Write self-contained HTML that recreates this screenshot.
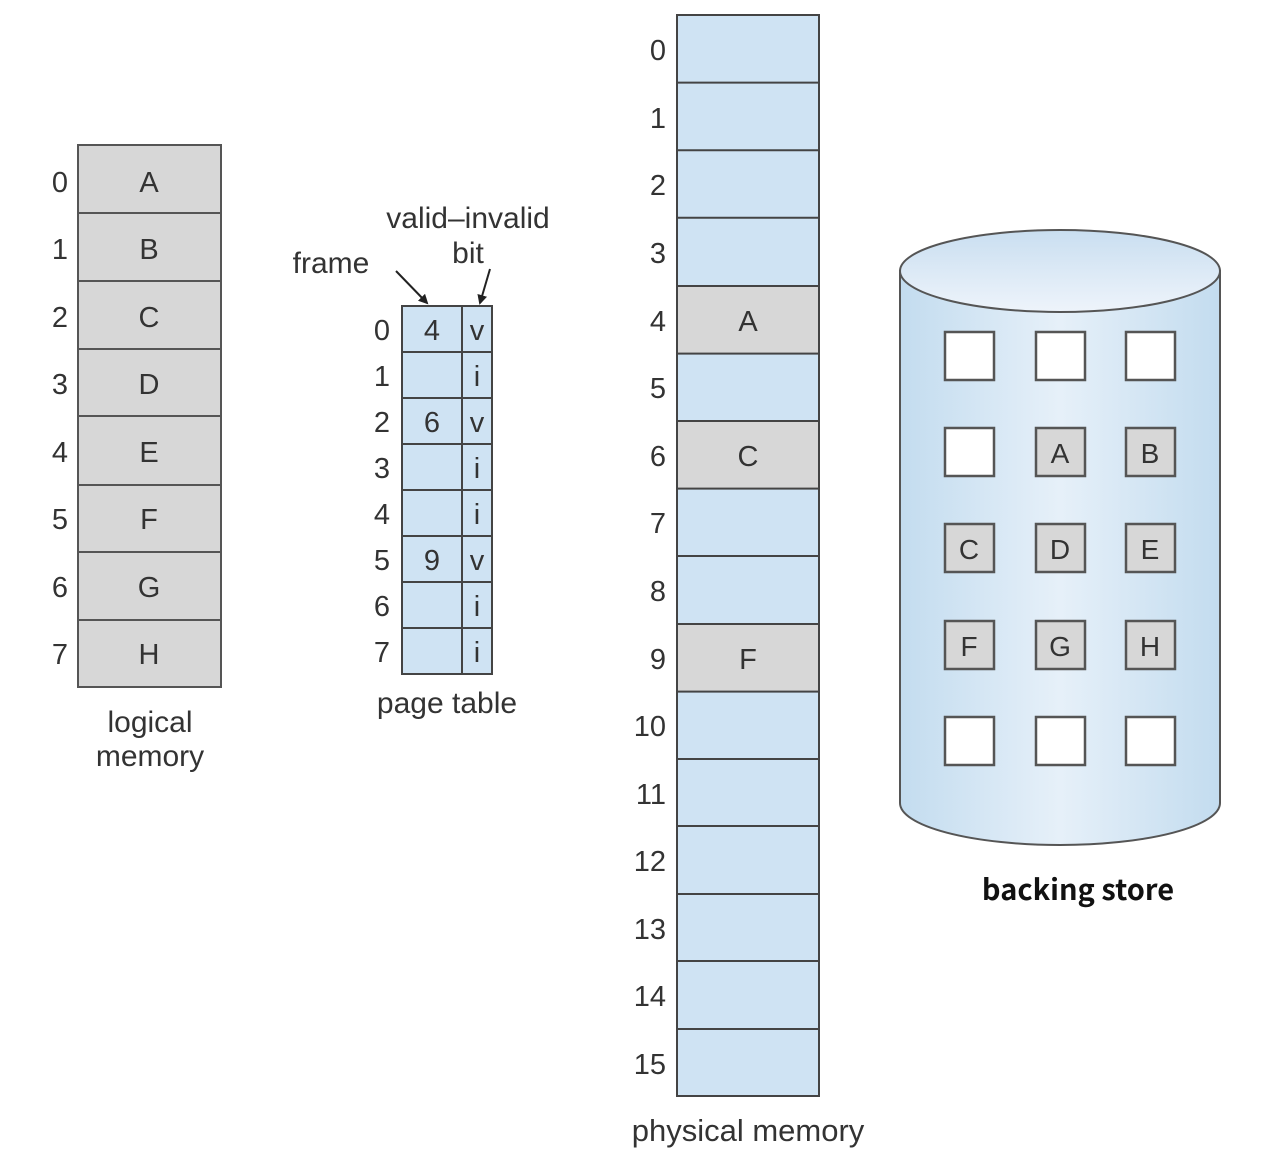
<!DOCTYPE html>
<html><head><meta charset="utf-8"><style>
html,body{margin:0;padding:0;background:#fff;}
svg{display:block;}
text{font-family:"Liberation Sans",sans-serif;fill:#333;}
</style></head><body>
<svg width="1280" height="1176" viewBox="0 0 1280 1176" xmlns="http://www.w3.org/2000/svg">
<defs>
<linearGradient id="cyl" x1="0" x2="1" y1="0" y2="0">
<stop offset="0" stop-color="#c3dcef"/><stop offset="0.5" stop-color="#e6f0f9"/><stop offset="1" stop-color="#c3dcef"/>
</linearGradient>
<linearGradient id="top" x1="0" x2="0" y1="0" y2="1">
<stop offset="0" stop-color="#c9def0"/><stop offset="1" stop-color="#eef4fb"/>
</linearGradient>
<marker id="ar" markerWidth="10" markerHeight="10" refX="8" refY="5" orient="auto" markerUnits="userSpaceOnUse"><path d="M0,0 L10,5 L0,10 Z" fill="#222"/></marker>
</defs>

<!-- logical memory -->
<g stroke="#555" stroke-width="2" fill="#d7d7d7">
<rect x="78" y="145" width="143" height="68"/>
<rect x="78" y="213" width="143" height="68"/>
<rect x="78" y="281" width="143" height="68"/>
<rect x="78" y="349" width="143" height="67"/>
<rect x="78" y="416" width="143" height="69"/>
<rect x="78" y="485" width="143" height="67"/>
<rect x="78" y="552" width="143" height="68"/>
<rect x="78" y="620" width="143" height="67"/>
</g>
<g font-size="29" text-anchor="middle">
<text x="149" y="192">A</text><text x="149" y="259">B</text><text x="149" y="327">C</text><text x="149" y="394">D</text>
<text x="149" y="462">E</text><text x="149" y="529">F</text><text x="149" y="597">G</text><text x="149" y="664">H</text>
<text x="60" y="192">0</text><text x="60" y="259">1</text><text x="60" y="327">2</text><text x="60" y="394">3</text>
<text x="60" y="462">4</text><text x="60" y="529">5</text><text x="60" y="597">6</text><text x="60" y="664">7</text>
</g>
<g font-size="30" text-anchor="middle">
<text x="150" y="732">logical</text><text x="150" y="766">memory</text>
</g>

<!-- page table -->
<rect x="402" y="306" width="90" height="368" fill="#cfe3f3" stroke="#444" stroke-width="2"/>
<g stroke="#444" stroke-width="2">
<line x1="462" y1="306" x2="462" y2="674"/>
<line x1="402" y1="352" x2="492" y2="352"/><line x1="402" y1="398" x2="492" y2="398"/>
<line x1="402" y1="444" x2="492" y2="444"/><line x1="402" y1="490" x2="492" y2="490"/>
<line x1="402" y1="536" x2="492" y2="536"/><line x1="402" y1="582" x2="492" y2="582"/>
<line x1="402" y1="628" x2="492" y2="628"/>
</g>
<g font-size="29" text-anchor="middle">
<text x="382" y="340">0</text><text x="382" y="386">1</text><text x="382" y="432">2</text><text x="382" y="478">3</text>
<text x="382" y="524">4</text><text x="382" y="570">5</text><text x="382" y="616">6</text><text x="382" y="662">7</text>
<text x="432" y="340">4</text><text x="432" y="432">6</text><text x="432" y="570">9</text>
<text x="477" y="340">v</text><text x="477" y="386">i</text><text x="477" y="432">v</text><text x="477" y="478">i</text>
<text x="477" y="524">i</text><text x="477" y="570">v</text><text x="477" y="616">i</text><text x="477" y="662">i</text>
</g>
<g font-size="30" text-anchor="middle">
<text x="447" y="713">page table</text>
<text x="331" y="273">frame</text>
<text x="468" y="228">valid–invalid</text>
<text x="468" y="263">bit</text>
</g>
<line x1="396" y1="271" x2="427" y2="303" stroke="#222" stroke-width="2" marker-end="url(#ar)"/>
<line x1="490" y1="269" x2="480" y2="303" stroke="#222" stroke-width="2" marker-end="url(#ar)"/>

<!-- physical memory -->
<g stroke="#444" stroke-width="2">
<rect x="677" y="15" width="142" height="1081" fill="#cfe3f3"/>
<rect x="677" y="286" width="142" height="67.6" fill="#d7d7d7"/>
<rect x="677" y="421" width="142" height="67.6" fill="#d7d7d7"/>
<rect x="677" y="624" width="142" height="67.6" fill="#d7d7d7"/>
<line x1="677" y1="82.6" x2="819" y2="82.6"/><line x1="677" y1="150.2" x2="819" y2="150.2"/>
<line x1="677" y1="217.8" x2="819" y2="217.8"/><line x1="677" y1="556" x2="819" y2="556"/>
<line x1="677" y1="759" x2="819" y2="759"/><line x1="677" y1="826" x2="819" y2="826"/>
<line x1="677" y1="894" x2="819" y2="894"/><line x1="677" y1="961" x2="819" y2="961"/>
<line x1="677" y1="1029" x2="819" y2="1029"/>
</g>
<g font-size="29" text-anchor="end">
<text x="666" y="60">0</text><text x="666" y="128">1</text><text x="666" y="195">2</text><text x="666" y="263">3</text>
<text x="666" y="331">4</text><text x="666" y="398">5</text><text x="666" y="466">6</text><text x="666" y="533">7</text>
<text x="666" y="601">8</text><text x="666" y="669">9</text><text x="666" y="736">10</text><text x="666" y="804">11</text>
<text x="666" y="871">12</text><text x="666" y="939">13</text><text x="666" y="1006">14</text><text x="666" y="1074">15</text>
</g>
<g font-size="29" text-anchor="middle">
<text x="748" y="331">A</text><text x="748" y="466">C</text><text x="748" y="669">F</text>
</g>
<text x="748" y="1141" font-size="31" text-anchor="middle">physical memory</text>

<!-- backing store cylinder -->
<path d="M900,271 L900,803 A160,42 0 0 0 1220,803 L1220,271 Z" fill="url(#cyl)" stroke="#555" stroke-width="2"/>
<ellipse cx="1060" cy="271" rx="160" ry="41" fill="url(#top)" stroke="#555" stroke-width="2"/>
<g stroke="#555" stroke-width="2.5">
<rect x="945" y="332" width="49" height="48" fill="#fff"/>
<rect x="1036" y="332" width="49" height="48" fill="#fff"/>
<rect x="1126" y="332" width="49" height="48" fill="#fff"/>
<rect x="945" y="428" width="49" height="48" fill="#fff"/>
<rect x="1036" y="428" width="49" height="48" fill="#d7d7d7"/>
<rect x="1126" y="428" width="49" height="48" fill="#d7d7d7"/>
<rect x="945" y="524" width="49" height="48" fill="#d7d7d7"/>
<rect x="1036" y="524" width="49" height="48" fill="#d7d7d7"/>
<rect x="1126" y="524" width="49" height="48" fill="#d7d7d7"/>
<rect x="945" y="621" width="49" height="48" fill="#d7d7d7"/>
<rect x="1036" y="621" width="49" height="48" fill="#d7d7d7"/>
<rect x="1126" y="621" width="49" height="48" fill="#d7d7d7"/>
<rect x="945" y="717" width="49" height="48" fill="#fff"/>
<rect x="1036" y="717" width="49" height="48" fill="#fff"/>
<rect x="1126" y="717" width="49" height="48" fill="#fff"/>
</g>
<g font-size="28" text-anchor="middle">
<text x="1060" y="463">A</text><text x="1150" y="463">B</text>
<text x="969" y="559">C</text><text x="1060" y="559">D</text><text x="1150" y="559">E</text>
<text x="969" y="656">F</text><text x="1060" y="656">G</text><text x="1150" y="656">H</text>
</g>
<text x="1078" y="900" font-size="29" font-weight="bold" text-anchor="middle" style="font-family:'Noto Sans CJK KR','Liberation Sans',sans-serif;fill:#111">backing store</text>
</svg>
</body></html>
